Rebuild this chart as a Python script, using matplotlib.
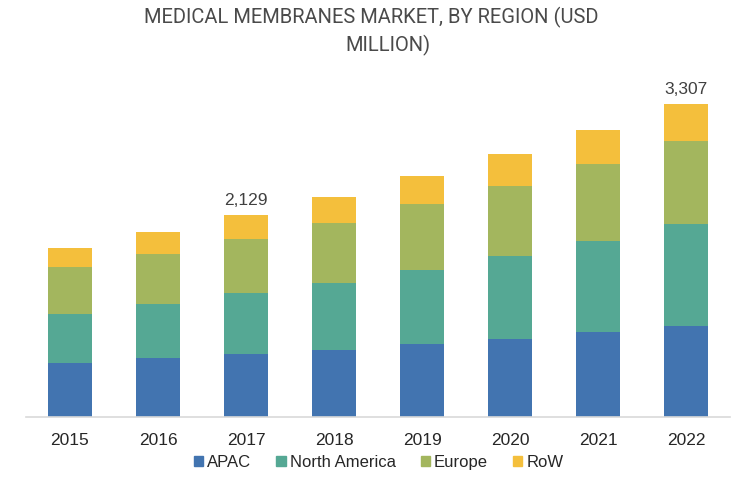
import matplotlib
matplotlib.use("Agg")
import numpy as np
import matplotlib.pyplot as plt
from matplotlib.patches import Patch

# Market values by region (USD million)
years = ["2015", "2016", "2017", "2018", "2019", "2020", "2021", "2022"]
apac = [564, 617, 660, 705, 765, 821, 892, 962]
north_america = [521, 571, 645, 711, 785, 880, 968, 1075]
europe = [497, 532, 574, 634, 694, 740, 811, 880]
row = [204, 229, 250, 268, 299, 335, 359, 390]
labelled = {"2017": "2,129", "2022": "3,307"}

series = [
    ("APAC", apac, "#4274b0"),
    ("North America", north_america, "#55a894"),
    ("Europe", europe, "#a3b65e"),
    ("RoW", row, "#f4bf3c"),
]

plt.rcParams["font.family"] = ["Liberation Sans", "DejaVu Sans"]

fig = plt.figure(figsize=(7.34, 4.97), dpi=100)
ax = fig.add_axes([0.0354, 0.1616, 0.9592, 0.6662])

x = np.arange(len(years))
bottom = np.zeros(len(years))
for name, vals, color in series:
    ax.bar(x, vals, width=0.49, bottom=bottom, color=color, label=name)
    bottom += np.array(vals)

# value labels on selected bars
for i, yr in enumerate(years):
    if yr in labelled:
        ax.text(x[i], bottom[i] + 75, labelled[yr], ha="center", va="bottom",
                fontsize=12.5, color="#404040")

ax.set_xlim(-0.5, len(years) - 0.5)
ax.set_ylim(0, 3500)
ax.set_xticks(x)
ax.set_xticklabels(years, fontsize=12.5, color="#262626")
ax.tick_params(axis="x", length=0, pad=12)
ax.set_yticks([])
for side in ["top", "right", "left"]:
    ax.spines[side].set_visible(False)
ax.spines["bottom"].set_color("#d9d9d9")
ax.spines["bottom"].set_linewidth(1.2)

# title (two lines, as in the original)
fig.text(0.506, 0.965, "MEDICAL MEMBRANES MARKET, BY REGION (USD", ha="center",
         va="center", fontsize=14.5, color="#4a4a4a", family="Roboto")
fig.text(0.529, 0.908, "MILLION)", ha="center", va="center", fontsize=14.5,
         color="#4a4a4a", family="Roboto")

handles = [Patch(color=c, label=n) for n, _, c in series]
fig.legend(handles=handles, loc="center", bbox_to_anchor=(0.516, 0.07), ncol=4,
           frameon=False, fontsize=12, handlelength=0.55, handleheight=0.55,
           handletextpad=0.25, columnspacing=1.5, labelcolor="#262626")

fig.savefig("out.png", dpi=100)
